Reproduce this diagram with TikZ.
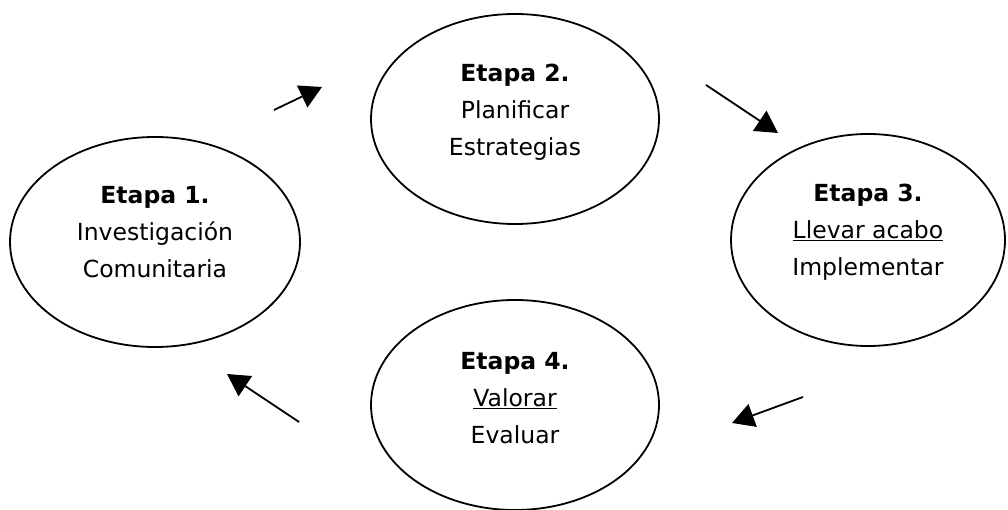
\documentclass[tikz,border=0pt]{standalone}
\usepackage{fontspec}
\setmainfont{DejaVu Sans}
\usetikzlibrary{arrows.meta,shapes.geometric}
\tikzset{
  stage/.style={draw, ellipse, line width=1.8pt, inner sep=0pt},
  stagetext/.style={align=center, font=\fontsize{23.5}{37}\selectfont, inner sep=0pt},
  flow/.style={line width=1.8pt, -{Triangle[length=22pt,width=24pt]}}
}
\begin{document}
\begin{tikzpicture}[x=1pt,y=1pt]
\useasboundingbox (0,0) rectangle (1008,510);
\node[stage, minimum width=290pt, minimum height=210pt] (e1) at (155,268) {};
\node[stage, minimum width=288pt, minimum height=210pt] (e2) at (515,391) {};
\node[stage, minimum width=274pt, minimum height=212pt] (e3) at (868,270) {};
\node[stage, minimum width=288pt, minimum height=210pt] (e4) at (515,105) {};
\node[stagetext] (t1) at ([yshift=10pt]e1.center) {\textbf{Etapa 1.}\\Investigación\\Comunitaria};
\node[stagetext] (t2) at ([yshift=7pt]e2.center) {\textbf{Etapa 2.}\\Planificar\\Estrategias};
\node[stagetext] (t3) at ([yshift=8pt]e3.center) {\textbf{Etapa 3.}\\\underline{Llevar acabo}\\Implementar};
\node[stagetext] (t4) at ([yshift=7pt]e4.center) {\textbf{Etapa 4.}\\\underline{Valorar}\\Evaluar};
\coordinate (a1s) at (274,400); \coordinate (a1e) at (322,423);
\coordinate (a2s) at (706,425); \coordinate (a2e) at (778,377);
\coordinate (a3s) at (299,88);  \coordinate (a3e) at (227,136);
\coordinate (a4s) at (803,113); \coordinate (a4e) at (732,87);
\draw[flow] (a1s) -- (a1e);
\draw[flow] (a2s) -- (a2e);
\draw[flow] (a3s) -- (a3e);
\draw[flow] (a4s) -- (a4e);
\end{tikzpicture}
\end{document}
